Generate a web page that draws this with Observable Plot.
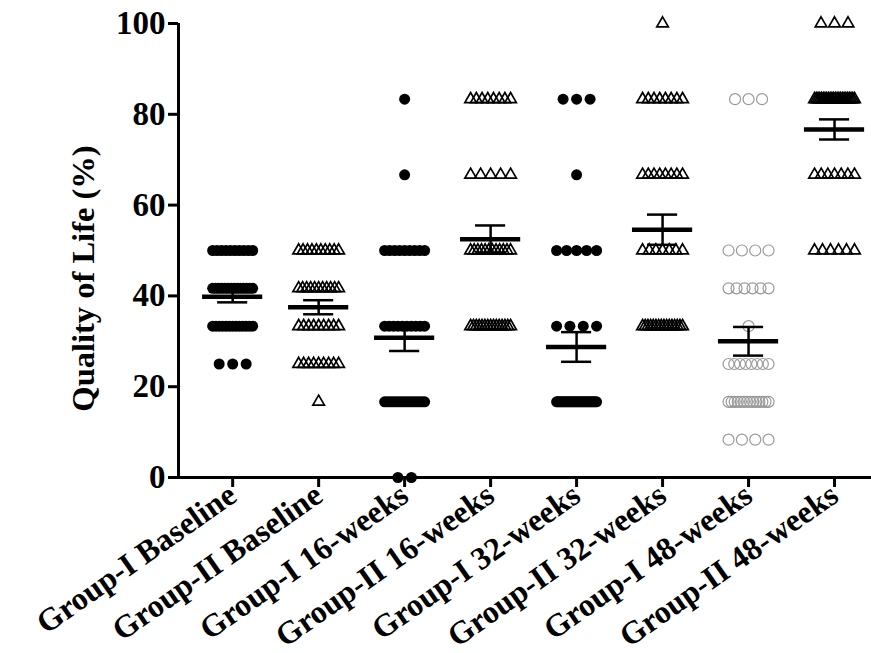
<!DOCTYPE html>
<html><head><meta charset="utf-8">
<script src="https://cdn.jsdelivr.net/npm/d3@7"></script>
<script src="https://cdn.jsdelivr.net/npm/@observablehq/plot@0.6"></script>
<style>body{margin:0;background:#fff}#chart svg{font-family:"Liberation Serif","Times New Roman",serif;}</style>
</head><body><div id="chart"></div>
<script>
const categories = ["Group-I Baseline","Group-II Baseline","Group-I 16-weeks","Group-II 16-weeks","Group-I 32-weeks","Group-II 32-weeks","Group-I 48-weeks","Group-II 48-weeks"];
// Quality-of-life score levels (%)
const levels = [0, 8.33, 16.67, 25, 33.33, 41.67, 50, 66.67, 83.33, 100];
// number of patients at each level, per group (aligned with levels)
const countsG1Baseline = [0, 0, 0, 3, 13, 14, 10, 0, 0, 0];
const countsG2Baseline = [0, 0, 1, 9, 9, 11, 10, 0, 0, 0];
const countsG1Week16   = [2, 0, 16, 0, 10, 0, 9, 1, 1, 0];
const countsG2Week16   = [0, 0, 0, 0, 15, 0, 12, 5, 8, 0];
const countsG1Week32   = [0, 0, 27, 0, 4, 0, 5, 1, 3, 0];
const countsG2Week32   = [0, 0, 0, 0, 16, 0, 7, 8, 8, 1];
const countsG1Week48   = [0, 4, 14, 8, 1, 6, 4, 0, 3, 0];
const countsG2Week48   = [0, 0, 0, 0, 0, 0, 6, 7, 24, 3];
const yTicks = [0, 20, 40, 60, 80, 100];

const allCounts = [countsG1Baseline, countsG2Baseline, countsG1Week16, countsG2Week16, countsG1Week32, countsG2Week32, countsG1Week48, countsG2Week48];
const markerKind = ["filled","triangle","filled","triangle","filled","triangle","open","triangle"];

const pxPerCat = 86;
const gap = 13.5 / pxPerCat, maxSpan = 40 / pxPerCat;
const points = [], stats = [];
allCounts.forEach((counts, i) => {
  const vals = [];
  counts.forEach((k, j) => {
    if (!k) return;
    const sp = k > 1 ? Math.min(gap, maxSpan / (k - 1)) : 0;
    for (let n = 0; n < k; n++) {
      points.push({i, kind: markerKind[i], v: levels[j], x: i + (n - (k - 1) / 2) * sp});
      vals.push(levels[j]);
    }
  });
  const m = d3.mean(vals), se = d3.deviation(vals) / Math.sqrt(vals.length);
  stats.push({i, mean: m, lo: m - se, hi: m + se});
});

const xMin = -0.63, xMax = 7.43;
const plot = Plot.plot({
  width: 871, height: 653,
  marginTop: 23, marginBottom: 176, marginLeft: 178, marginRight: 0,
  x: {domain: [xMin, xMax], axis: null},
  y: {domain: [0, 100], axis: null},
  marks: [
    Plot.dot(points.filter(d => d.kind === "filled"), {x: "x", y: "v", r: 5.5, fill: "black"}),
    Plot.dot(points.filter(d => d.kind === "triangle"), {x: "x", y: "v", symbol: "triangle", r: 4.3, stroke: "black", strokeWidth: 1.7, fill: "none"}),
    Plot.dot(points.filter(d => d.kind === "open"), {x: "x", y: "v", r: 5.5, stroke: "#999", strokeWidth: 1.2, fill: "none"}),
    Plot.ruleX(stats, {x: "i", y1: "lo", y2: "hi", strokeWidth: 2.5}),
    Plot.ruleY(stats, {y: "hi", x1: d => d.i - 0.175, x2: d => d.i + 0.175, strokeWidth: 2.5}),
    Plot.ruleY(stats, {y: "lo", x1: d => d.i - 0.175, x2: d => d.i + 0.175, strokeWidth: 2.5}),
    Plot.ruleY(stats, {y: "mean", x1: d => d.i - 0.35, x2: d => d.i + 0.35, strokeWidth: 4.5}),
    Plot.ruleX([xMin], {y1: 0, y2: 100, strokeWidth: 3}),
    Plot.ruleY([0], {strokeWidth: 3}),
    Plot.axisY({ticks: yTicks, tickSize: 10, strokeWidth: 3, tickPadding: 3, fontSize: 33, fontWeight: "bold", label: null}),
    Plot.axisX({ticks: d3.range(categories.length), tickFormat: i => categories[i], tickRotate: -35, tickSize: 10, strokeWidth: 3, tickPadding: 4, fontSize: 32, fontWeight: "bold", label: null}),
    Plot.text(["Quality of Life (%)"], {frameAnchor: "left", dx: -95, dy: 28, rotate: -90, fontSize: 32.5, fontWeight: "bold", textAnchor: "middle", lineAnchor: "middle"})
  ]
});
document.getElementById("chart").append(plot);
</script>
</body></html>
